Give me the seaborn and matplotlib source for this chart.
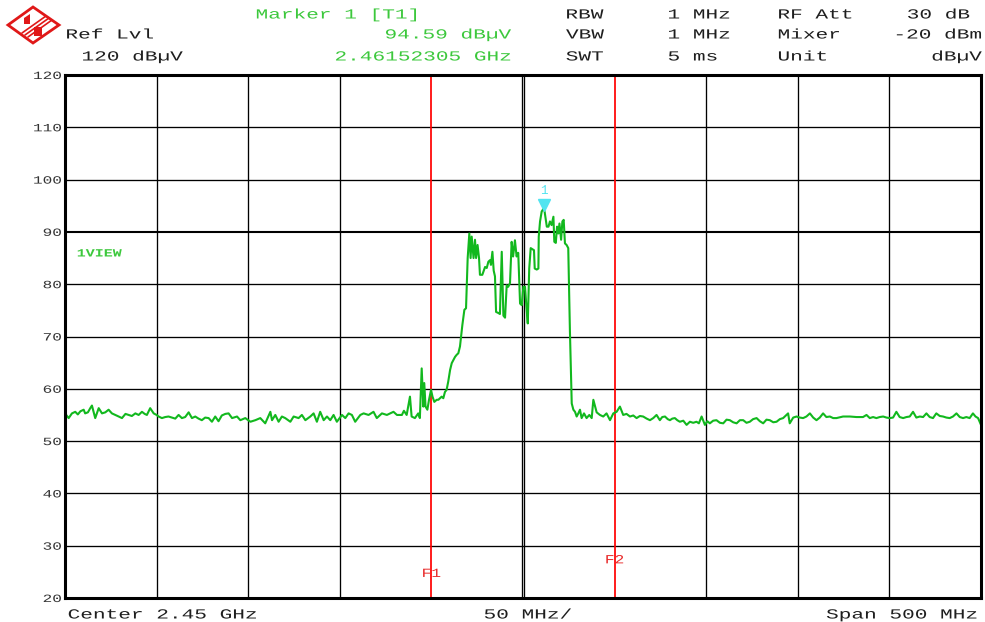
import matplotlib
matplotlib.use("Agg")
import numpy as np
import pandas as pd
import matplotlib.pyplot as plt
import seaborn as sns
from matplotlib.patheffects import AbstractPathEffect
from matplotlib.transforms import Affine2D
from matplotlib.patches import Polygon

# ---------------- data ----------------
freq_mhz = [
    2200.0, 2202.0, 2203.8, 2205.6, 2207.0, 2208.4, 2210.2, 2211.0, 2212.5, 2213.8,
    2214.7, 2216.5, 2218.4, 2220.2, 2222.0, 2223.8, 2225.6, 2227.5, 2229.3, 2231.1,
    2233.0, 2234.7, 2236.5, 2238.4, 2240.2, 2242.0, 2243.5, 2244.7, 2246.5, 2248.4,
    2250.0, 2251.1, 2252.9, 2254.7, 2256.5, 2258.4, 2260.2, 2262.0, 2263.8, 2265.6,
    2267.5, 2269.3, 2271.1, 2272.9, 2274.7, 2276.5, 2278.4, 2280.2, 2282.0, 2283.8,
    2285.6, 2287.5, 2289.3, 2291.2, 2293.9, 2295.7, 2298.4, 2301.2, 2303.9, 2306.6,
    2309.3, 2312.1, 2313.0, 2314.8, 2316.6, 2318.4, 2320.2, 2323.0, 2324.8, 2327.5,
    2329.3, 2331.2, 2333.9, 2335.7, 2337.5, 2339.3, 2341.2, 2343.0, 2344.8, 2346.6,
    2348.4, 2351.2, 2353.0, 2354.8, 2356.6, 2358.4, 2361.2, 2363.0, 2365.7, 2368.4,
    2370.2, 2373.0, 2375.7, 2377.5, 2379.3, 2381.2, 2383.9, 2385.0, 2386.5, 2388.3,
    2389.2, 2391.0, 2392.8, 2393.7, 2394.7, 2395.6, 2396.1, 2396.8, 2397.8, 2398.7,
    2399.8, 2400.6, 2401.6, 2402.9, 2403.8, 2404.7, 2405.6, 2406.5, 2407.4, 2408.3,
    2409.2, 2410.2, 2411.1, 2412.0, 2412.9, 2413.8, 2414.7, 2415.6, 2416.9, 2418.0,
    2418.9, 2419.8, 2420.7, 2421.4, 2422.0, 2423.0, 2423.8, 2424.4, 2425.2, 2426.0,
    2426.5, 2427.8, 2428.7, 2429.3, 2430.2, 2431.1, 2432.0, 2432.5, 2433.3, 2434.0,
    2434.7, 2435.3, 2436.5, 2437.4, 2438.4, 2439.3, 2440.2, 2441.1, 2441.9, 2442.9,
    2443.8, 2444.6, 2445.6, 2446.5, 2447.4, 2448.4, 2449.3, 2450.2, 2451.1, 2451.8,
    2452.6, 2453.4, 2454.2, 2455.1, 2456.0, 2456.4, 2457.5, 2458.4, 2458.6, 2459.3,
    2460.2, 2461.5, 2462.1, 2463.0, 2463.9, 2464.7, 2465.6, 2466.6, 2467.1, 2467.9,
    2468.6, 2469.3, 2469.9, 2470.8, 2471.5, 2472.2, 2472.9, 2473.8, 2474.7, 2475.6,
    2476.6, 2477.5, 2478.4, 2479.3, 2480.2, 2481.1, 2482.0, 2483.3, 2484.7, 2486.2,
    2487.5, 2488.4, 2490.2, 2492.0, 2493.8, 2495.6, 2497.5, 2499.3, 2501.1, 2502.9,
    2504.7, 2506.5, 2508.4, 2510.2, 2512.0, 2513.8, 2515.6, 2517.5, 2519.3, 2521.1,
    2522.9, 2524.7, 2526.0, 2527.5, 2529.0, 2530.2, 2531.5, 2532.9, 2534.2, 2535.6,
    2537.5, 2539.3, 2541.1, 2542.9, 2544.7, 2546.0, 2547.5, 2549.3, 2550.6, 2552.0,
    2553.8, 2555.6, 2557.5, 2559.3, 2561.1, 2562.9, 2564.7, 2566.6, 2568.4, 2570.2,
    2572.0, 2573.8, 2575.6, 2577.5, 2579.3, 2581.1, 2582.9, 2584.7, 2586.6, 2588.4,
    2590.2, 2592.0, 2594.7, 2595.6, 2597.5, 2599.3, 2601.1, 2602.9, 2604.7, 2606.6,
    2608.4, 2610.2, 2612.0, 2613.8, 2615.6, 2617.5, 2619.3, 2621.1, 2624.7, 2628.4,
    2632.0, 2635.6, 2637.5, 2639.3, 2641.1, 2642.9, 2644.7, 2646.6, 2648.4, 2650.2,
    2652.0, 2653.8, 2655.6, 2657.5, 2659.3, 2661.1, 2662.9, 2664.7, 2666.6, 2668.4,
    2670.2, 2672.0, 2673.8, 2675.6, 2677.5, 2679.3, 2681.1, 2682.9, 2684.7, 2686.6,
    2688.4, 2690.2, 2692.0, 2693.8, 2695.6, 2697.0, 2698.4, 2700.0,
]
level_dbuv = [
    55.3, 54.4, 55.3, 55.6, 55.1, 55.7, 56.0, 55.3, 55.5, 56.3,
    56.8, 54.4, 56.3, 55.3, 55.5, 56.0, 55.3, 55.0, 54.7, 54.4,
    55.2, 55.0, 54.8, 55.3, 55.0, 55.6, 55.2, 55.0, 56.3, 55.3,
    55.0, 54.7, 54.4, 54.6, 54.7, 54.5, 54.3, 55.0, 54.4, 54.6,
    55.5, 54.4, 54.7, 54.3, 54.0, 54.5, 54.4, 53.7, 54.7, 53.8,
    54.9, 55.2, 55.3, 54.4, 54.7, 54.0, 54.4, 53.7, 54.0, 54.4,
    53.4, 55.6, 54.0, 55.0, 53.7, 54.7, 54.4, 53.7, 54.7, 54.4,
    55.0, 54.0, 54.7, 55.3, 53.7, 55.6, 54.0, 54.7, 54.0, 55.0,
    53.7, 55.0, 54.4, 55.3, 55.0, 53.7, 55.0, 55.3, 55.0, 55.6,
    54.4, 55.3, 55.0, 55.3, 55.6, 55.0, 55.0, 55.8, 55.0, 58.5,
    54.7, 54.4, 55.3, 54.4, 63.9, 56.6, 61.1, 56.6, 56.0, 57.9,
    59.8, 58.5, 57.5, 57.9, 57.9, 58.2, 58.5, 58.2, 59.4, 59.8,
    61.4, 63.6, 64.9, 65.5, 66.1, 66.5, 66.8, 68.1, 72.2, 75.1,
    75.4, 85.0, 89.7, 85.0, 89.1, 85.0, 88.5, 85.0, 87.5, 85.0,
    81.8, 81.8, 82.7, 83.3, 83.1, 84.3, 84.6, 83.7, 86.2, 82.6,
    81.5, 74.7, 74.5, 74.3, 86.2, 74.0, 73.6, 79.8, 79.5, 80.2,
    88.1, 85.3, 88.4, 85.3, 86.0, 76.3, 76.0, 79.5, 79.5, 76.0,
    72.5, 83.0, 86.9, 86.7, 86.5, 83.0, 82.8, 83.0, 89.1, 92.0,
    93.9, 94.59, 93.2, 91.0, 91.0, 92.0, 91.3, 92.9, 88.1, 87.9,
    91.0, 89.7, 91.6, 88.5, 92.0, 92.3, 87.8, 87.5, 86.9, 71.2,
    57.2, 56.0, 55.6, 54.7, 55.3, 56.0, 54.4, 55.3, 54.4, 55.0,
    54.4, 57.9, 55.5, 55.0, 54.7, 55.3, 54.0, 55.3, 55.6, 56.6,
    55.0, 55.2, 54.7, 54.9, 54.4, 54.8, 54.7, 54.3, 54.0, 54.4,
    55.0, 54.0, 54.6, 54.7, 54.2, 54.0, 54.3, 54.4, 54.0, 53.7,
    53.9, 53.1, 53.7, 53.5, 53.7, 53.4, 54.7, 53.1, 53.8, 53.4,
    53.9, 54.0, 53.5, 53.4, 54.1, 54.0, 53.6, 53.4, 54.0, 54.0,
    53.5, 53.7, 54.2, 54.4, 53.8, 53.4, 54.1, 54.0, 53.6, 53.7,
    54.2, 54.4, 55.3, 53.4, 54.5, 54.7, 54.5, 54.4, 54.7, 55.3,
    54.5, 54.0, 54.5, 55.3, 54.6, 54.7, 54.4, 54.4, 54.7, 54.7,
    54.6, 54.6, 55.0, 54.4, 54.6, 54.4, 54.6, 54.7, 54.5, 54.4,
    54.5, 55.6, 54.6, 54.4, 54.6, 54.7, 55.6, 54.5, 54.7, 54.6,
    55.3, 54.6, 54.4, 55.3, 54.8, 54.7, 54.5, 54.4, 54.7, 55.3,
    54.6, 54.4, 54.6, 54.4, 55.3, 54.7, 54.4, 53.1,
]

grid_freqs = [2200, 2250, 2300, 2350, 2550, 2600, 2650, 2700]
center_pair = [2449.2, 2450.8]
level_ticks = [20, 30, 40, 50, 60, 70, 80, 90, 100, 110, 120]
level_tick_labels = ["20", "30", "40", "50", "60", "70", "80", "90", "100", "110", "120"]
freq_lines = [2400, 2500]
freq_line_labels = ["F1", "F2"]
freq_line_label_levels = [24.6, 27.2]
marker_freq = 2461.52305
marker_level = 94.59

header_rows = [
    ["Marker 1 [T1]", "RBW", "1 MHz", "RF Att", "30 dB"],
    ["Ref Lvl", "94.59 dB\u00b5V", "VBW", "1 MHz", "Mixer", "-20 dBm"],
    ["120 dB\u00b5V", "2.46152305 GHz", "SWT", "5 ms", "Unit", "dB\u00b5V"],
]
footer = ["Center 2.45 GHz", "50 MHz/", "Span 500 MHz"]
trace_name = "1VIEW"

# ---------------- style ----------------
W, H = 985, 622
TRACE = "#12b81e"
GREENTXT = "#3cc83c"
TXT = "#1e1e1e"
RED = "#ff0000"
CYAN = "#52e4f0"

sns.set_style("white")
plt.rcParams["font.family"] = ["Liberation Mono", "DejaVu Sans"]


class HStretch(AbstractPathEffect):
    """Stretch a text's glyphs horizontally (the screen font is letter-spaced)."""

    def __init__(self, sx, anchor="left"):
        super().__init__()
        self.sx = sx
        self.anchor = anchor

    def draw_path(self, renderer, gc, tpath, affine, rgbFace=None):
        ext = affine.transform_path(tpath).get_extents()
        if self.anchor == "left":
            x0 = ext.x0
        elif self.anchor == "right":
            x0 = ext.x1
        else:
            x0 = 0.5 * (ext.x0 + ext.x1)
        st = Affine2D().translate(-x0, 0).scale(self.sx, 1.0).translate(x0, 0)
        renderer.draw_path(gc, tpath, affine + st, rgbFace)


fig = plt.figure(figsize=(W / 100, H / 100), dpi=100)
fig.patch.set_facecolor("white")
ax = fig.add_axes([65 / W, 1 - 598 / H, 916 / W, 523 / H])
ax.set_facecolor("white")

df = pd.DataFrame({"freq": freq_mhz, "level": level_dbuv})

# grid
for f in grid_freqs:
    ax.axvline(f, color="black", lw=0.95, zorder=1)
for f in center_pair:
    ax.axvline(f, color="black", lw=0.95, zorder=1)
for lv in level_ticks:
    ax.axhline(lv, color="black", lw=1.5 if lv == 90 else 0.95, zorder=1)

# frequency lines
for f in freq_lines:
    ax.axvline(f, color=RED, lw=1.25, zorder=2)
for f, lab, lv in zip(freq_lines, freq_line_labels, freq_line_label_levels):
    ax.text(f, lv, lab, color="#e82828", fontsize=9, ha="center", va="center",
            path_effects=[HStretch(1.3, "center")], zorder=5)

# trace
sns.lineplot(data=df, x="freq", y="level", ax=ax, color=TRACE, lw=1.5,
             estimator=None, sort=False, zorder=3)

# marker
ax.plot([marker_freq], [marker_level + 0.5], marker="v", markersize=9,
        color=CYAN, markeredgecolor=CYAN, linestyle="none", zorder=6)
ax.text(marker_freq, marker_level + 3.3, "1", color=CYAN, fontsize=9,
        ha="center", va="center", zorder=6)

ax.set_xlim(2200, 2700)
ax.set_ylim(20, 120)
ax.set_xlabel("")
ax.set_ylabel("")
ax.set_xticks([])
ax.set_yticks(level_ticks)
ax.set_yticklabels(level_tick_labels)
ax.tick_params(axis="y", length=0, pad=2.5, labelsize=8, labelcolor="#333333")
for t in ax.get_yticklabels():
    t.set_path_effects([HStretch(1.45, "right")])
for s in ax.spines.values():
    s.set_linewidth(2.2)
    s.set_color("black")
    s.set_zorder(7)


def label(x, y, s, color=TXT, size=10, ha="left", sx=1.52, weight="normal"):
    fig.text(x / W, 1 - y / H, s, color=color, fontsize=size, ha=ha,
             va="baseline", weight=weight, path_effects=[HStretch(sx, ha)])


# header
r1, r2, r3 = header_rows
label(256, 18.5, r1[0], GREENTXT)
label(566, 18.5, r1[1])
label(668, 18.5, r1[2])
label(778, 18.5, r1[3])
label(970, 18.5, r1[4], ha="right")

label(66, 38.5, r2[0])
label(385, 38.5, r2[1], GREENTXT)
label(566, 38.5, r2[2])
label(668, 38.5, r2[3])
label(778, 38.5, r2[4])
label(982, 38.5, r2[5], ha="right")

label(82, 60.5, r3[0])
label(335, 60.5, r3[1], GREENTXT)
label(566, 60.5, r3[2])
label(668, 60.5, r3[3])
label(778, 60.5, r3[4])
label(982, 60.5, r3[5], ha="right")

# footer
label(68, 618.5, footer[0])
label(484, 618.5, footer[1])
label(978, 618.5, footer[2], ha="right")

# trace label
label(77, 256.5, trace_name, GREENTXT, size=8, sx=1.35, weight="bold")

# logo (decorative red diamond)
def P(x, y):
    return (x / W, 1 - y / H)

fig.patches.append(Polygon([P(33, 7), P(59, 25), P(33, 43), P(8, 25)], closed=True,
                           fill=False, edgecolor="#e01818", lw=2.0,
                           transform=fig.transFigure, figure=fig))
for (xa, ya, xb, yb) in [(22, 33, 46, 16), (25, 35, 49, 18), (28, 37, 52, 20)]:
    fig.add_artist(plt.Line2D([xa / W, xb / W], [1 - ya / H, 1 - yb / H],
                              color="#e01818", lw=1.2, transform=fig.transFigure))
fig.patches.append(Polygon([P(34, 27), P(42, 27), P(42, 36), P(34, 36)], closed=True,
                           facecolor="#e01818", edgecolor="none",
                           transform=fig.transFigure, figure=fig))
fig.patches.append(Polygon([P(24, 18), P(30, 14), P(30, 24), P(24, 24)], closed=True,
                           facecolor="#e01818", edgecolor="none",
                           transform=fig.transFigure, figure=fig))

fig.savefig("out.png", dpi=100, facecolor="white")
